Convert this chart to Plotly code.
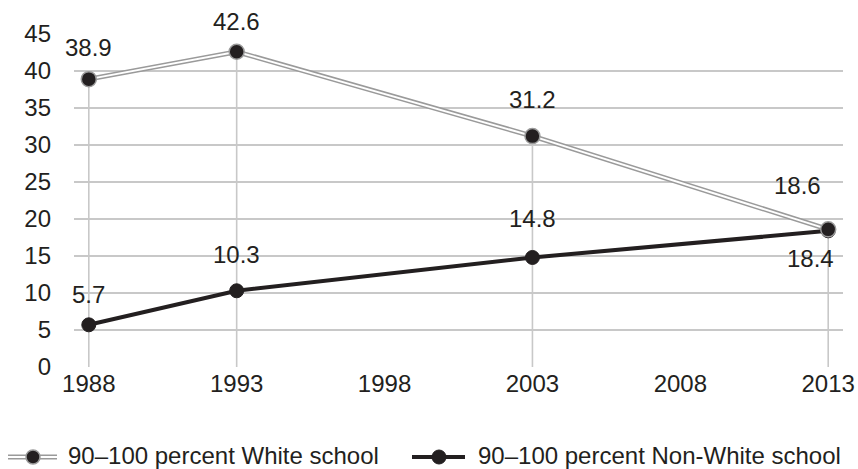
import plotly.graph_objects as go

# Share of students in intensely segregated schools (percent)
years = [1988, 1993, 2003, 2013]
white_school = [38.9, 42.6, 31.2, 18.6]
nonwhite_school = [5.7, 10.3, 14.8, 18.4]
x_ticks = [1988, 1993, 1998, 2003, 2008, 2013]
y_ticks = [0, 5, 10, 15, 20, 25, 30, 35, 40, 45]
series_names = ["90\u2013100 percent White school", "90\u2013100 percent Non-White school"]

# Label placement (pixel offsets from each point)
white_label_dy = [32, 30, 37, 44]
white_label_dx = [0, 0, 0, -31]
nonwhite_label_dy = [30, 36, 39, -28]
nonwhite_label_dx = [0, 0, 0, -18]

INK = "#231f20"
GRID = "#c8c8c8"
OUTLINE = "#9a9a9a"
FONT = "Liberation Sans, Arial, sans-serif"
FS = 24

fig = go.Figure()

# Drop lines from the higher point in each year down to zero
drop_x, drop_y = [], []
for yr, a, b in zip(years, white_school, nonwhite_school):
    drop_x += [yr, yr, None]
    drop_y += [0, max(a, b), None]
fig.add_trace(go.Scatter(x=drop_x, y=drop_y, mode="lines",
                         line=dict(color=GRID, width=1.6),
                         hoverinfo="skip", showlegend=False))

# White-school series: double line (grey outer, white core)
fig.add_trace(go.Scatter(x=years, y=white_school, mode="lines",
                         line=dict(color=OUTLINE, width=5),
                         hoverinfo="skip", showlegend=False))
fig.add_trace(go.Scatter(x=years, y=white_school, mode="lines",
                         line=dict(color="white", width=2),
                         hoverinfo="skip", showlegend=False))

# Non-white-school series
fig.add_trace(go.Scatter(x=years, y=nonwhite_school, mode="lines+markers",
                         line=dict(color=INK, width=4),
                         marker=dict(size=14, color=INK, line=dict(color=INK, width=1)),
                         name=series_names[1], showlegend=False))

# White-school markers on top
fig.add_trace(go.Scatter(x=years, y=white_school, mode="markers",
                         marker=dict(size=15, color=INK, line=dict(color=OUTLINE, width=1.5)),
                         name=series_names[0], showlegend=False))

# Value labels
for yr, v, dx, dy in zip(years, white_school, white_label_dx, white_label_dy):
    fig.add_annotation(x=yr, y=v, text=f"{v}", showarrow=False,
                       xshift=dx, yshift=dy, font=dict(family=FONT, size=FS, color=INK))
for yr, v, dx, dy in zip(years, nonwhite_school, nonwhite_label_dx, nonwhite_label_dy):
    fig.add_annotation(x=yr, y=v, text=f"{v}", showarrow=False,
                       xshift=dx, yshift=dy, font=dict(family=FONT, size=FS, color=INK))

# Legend drawn below the plot
W, H = 858, 469
L, R, T, B = 74, 15, 34, 102
pw, ph = W - L - R, H - T - B


def px(xp):
    return (xp - L) / pw


def py(yp):
    return (H - B - yp) / ph


sym_y = 457
txt_y = 455
# White series key: double line with marker
fig.add_shape(type="line", xref="paper", yref="paper",
              x0=px(8), x1=px(57), y0=py(sym_y), y1=py(sym_y),
              line=dict(color=OUTLINE, width=5))
fig.add_shape(type="line", xref="paper", yref="paper",
              x0=px(8), x1=px(57), y0=py(sym_y), y1=py(sym_y),
              line=dict(color="white", width=2))
fig.add_shape(type="circle", xref="paper", yref="paper",
              xsizemode="pixel", ysizemode="pixel",
              xanchor=px(33), yanchor=py(sym_y),
              x0=-7, x1=7, y0=-7, y1=7,
              fillcolor=INK, line=dict(color=OUTLINE, width=1.5))
fig.add_annotation(xref="paper", yref="paper", x=px(66), y=py(txt_y),
                   xanchor="left", yanchor="middle", showarrow=False,
                   text=series_names[0], font=dict(family=FONT, size=FS, color=INK))
# Non-white series key
fig.add_shape(type="line", xref="paper", yref="paper",
              x0=px(412), x1=px(465), y0=py(sym_y), y1=py(sym_y),
              line=dict(color=INK, width=4))
fig.add_shape(type="circle", xref="paper", yref="paper",
              xsizemode="pixel", ysizemode="pixel",
              xanchor=px(439), yanchor=py(sym_y),
              x0=-7, x1=7, y0=-7, y1=7,
              fillcolor=INK, line=dict(color=INK, width=1))
fig.add_annotation(xref="paper", yref="paper", x=px(476), y=py(txt_y),
                   xanchor="left", yanchor="middle", showarrow=False,
                   text=series_names[1], font=dict(family=FONT, size=FS, color=INK))

fig.update_layout(
    width=W, height=H,
    margin=dict(l=L, r=R, t=T, b=B),
    paper_bgcolor="white", plot_bgcolor="white",
    font=dict(family=FONT, size=FS, color=INK),
    showlegend=False,
    xaxis=dict(range=[1987.5, 2013.5], tickvals=x_ticks, ticktext=[str(t) for t in x_ticks],
               showgrid=False, zeroline=False, showline=False, ticks="",
               ticklabelstandoff=0, automargin=False),
    yaxis=dict(range=[0, 45], tickvals=y_ticks, showgrid=True, gridcolor=GRID, gridwidth=1.6,
               zeroline=False, showline=False, ticks="", ticklabelstandoff=22,
               automargin=False),
)

fig.write_html("out.html")
